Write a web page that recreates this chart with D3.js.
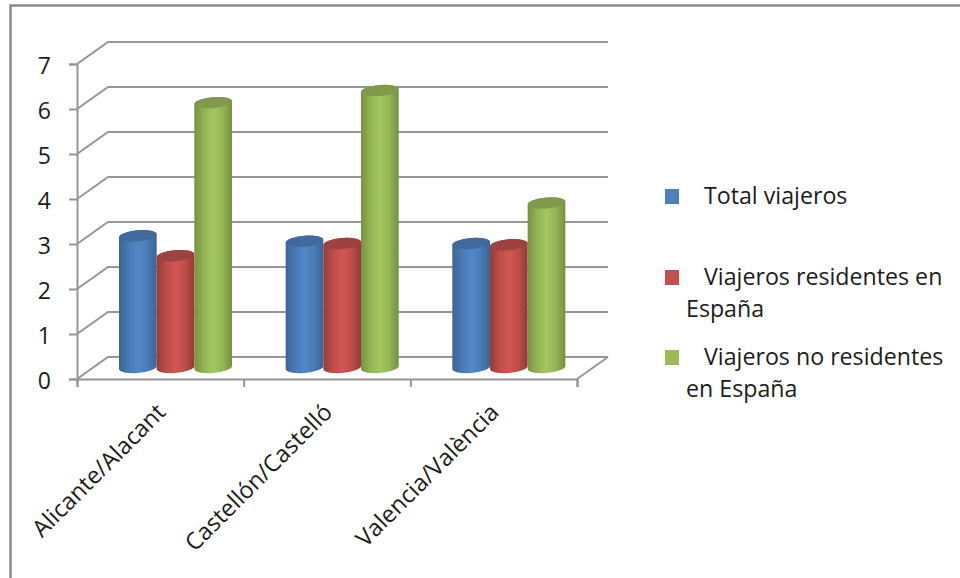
<!DOCTYPE html>
<html>
<head>
<meta charset="utf-8">
<script src="https://cdn.jsdelivr.net/npm/d3@7"></script>
<style>
body { margin: 0; background: #fff; }
text { font-family: "Open Sans", Lato, sans-serif; fill: #1c1c1c; }
</style>
</head>
<body>
<div id="graph"></div>
<script>
var svgWidth = 960;
var svgHeight = 578;

// data
var categories = ["Alicante/Alacant", "Castellón/Castelló", "Valencia/València"];
var seriesNames = ["Total viajeros", "Viajeros residentes en España", "Viajeros no residentes en España"];
var totalViajeros = [2.97, 2.85, 2.8];
var residentes = [2.53, 2.8, 2.77];
var noResidentes = [5.93, 6.2, 3.7];
var yTicks = [0, 1, 2, 3, 4, 5, 6, 7];

var seriesValues = [totalViajeros, residentes, noResidentes];
var seriesIds = ["blue", "red", "green"];
var legendColors = ["#4f81bd", "#c0504d", "#9bbb59"];
var topColors = ["#41699b", "#9d4240", "#7f9a4a"];
var stops = [
	["#3b6594", "#4a79b2", "#5189c8", "#4a7cb8", "#3a6492"],
	["#933c3a", "#bb4d4a", "#d25653", "#bd4e4b", "#8f3a38"],
	["#78923f", "#93b354", "#a3c760", "#95b556", "#74903f"]
];

// depth of the 3d floor
var depthX = 31;
var depthY = -22;

var x = d3.scaleBand().domain(categories).range([77, 577]);
var y = d3.scaleLinear().domain([0, 7]).range([379, 64]);
// the bars stand about half way into the floor
var inner = d3.scaleBand().domain(d3.range(3)).range([42, 155]);

var svg = d3.select("#graph").append("svg")
	.attr("width", svgWidth)
	.attr("height", svgHeight);

var defs = svg.append("defs");
seriesIds.forEach(function(id, i) {
	var grad = defs.append("linearGradient").attr("id", "grad-" + id);
	stops[i].forEach(function(c, j) {
		grad.append("stop").attr("offset", (j / 4 * 100) + "%").attr("stop-color", c);
	});
});

// outer frame, only top and left are visible
svg.append("path")
	.attr("d", "M10.5,578V5.5H960")
	.attr("fill", "none")
	.attr("stroke", "#8a8a8a")
	.attr("stroke-width", 2.5);

// back wall grid lines with the slanted side wall
var grid = svg.append("g").attr("class", "grid");
yTicks.forEach(function(t) {
	grid.append("path")
		.attr("d", d3.line()([
			[x.range()[0], y(t)],
			[x.range()[0] + depthX, y(t) + depthY],
			[x.range()[1] + depthX, y(t) + depthY]
		]))
		.attr("fill", "none")
		.attr("stroke", "#969696")
		.attr("stroke-width", 2);
});

// right edge of the floor
grid.append("line")
	.attr("x1", x.range()[1]).attr("y1", y(0))
	.attr("x2", x.range()[1] + depthX).attr("y2", y(0) + depthY)
	.attr("stroke", "#969696")
	.attr("stroke-width", 2);

// axes
var yAxis = svg.append("g")
	.attr("transform", "translate(" + x.range()[0] + ",0)")
	.call(d3.axisLeft(y).tickValues(yTicks).tickSize(8).tickPadding(18).tickFormat(d3.format("d")));
yAxis.selectAll("text").attr("font-size", 23).attr("dy", "0.42em");

var xTicks = categories.map(function(c) { return x(c); }).concat([x.range()[1]]);
var xAxis = svg.append("g")
	.attr("transform", "translate(0," + y(0) + ")")
	.call(d3.axisBottom(d3.scaleIdentity(x.range())).tickValues(xTicks).tickSize(8).tickFormat(""));

[yAxis, xAxis].forEach(function(axis) {
	axis.select(".domain").attr("stroke", "#969696").attr("stroke-width", 2);
	axis.selectAll(".tick line").attr("stroke", "#969696").attr("stroke-width", 2);
});

// cylinders
var baseY = y(0) - 9;
var ry = 5.5;
var barGroup = svg.append("g").attr("class", "bars");
categories.forEach(function(cat, c) {
	seriesValues.forEach(function(values, s) {
		var left = x(cat) + inner(s);
		var w = inner.bandwidth();
		var rx = w / 2;
		var cx = left + rx;
		var top = y(values[c]) - 9;
		barGroup.append("path")
			.attr("d", "M" + left + "," + (top + 1) +
				"L" + left + "," + (baseY - 1) +
				"A" + rx + "," + ry + " -5 0 0 " + (left + w) + "," + (baseY - 4) +
				"L" + (left + w) + "," + (top - 2) +
				"A" + rx + "," + ry + " -5 0 0 " + left + "," + (top + 1) + "Z")
			.attr("fill", "url(#grad-" + seriesIds[s] + ")");
		barGroup.append("ellipse")
			.attr("cx", cx)
			.attr("cy", top - 0.5)
			.attr("rx", rx)
			.attr("ry", ry)
			.attr("transform", "rotate(-5 " + cx + " " + (top - 0.5) + ")")
			.attr("fill", topColors[s]);
	});
});

// category labels, rotated 45 degrees
categories.forEach(function(cat) {
	var lx = x(cat) + x.bandwidth() / 2 - 5;
	svg.append("text")
		.attr("transform", "translate(" + lx + "," + 402 + ") rotate(-45)")
		.attr("text-anchor", "end")
		.attr("dy", "0.7em")
		.attr("font-size", 23.5)
		.text(cat);
});

// legend
var legendRows = [
	{ y: 196, lines: ["Total viajeros"] },
	{ y: 277, lines: ["Viajeros residentes en", "España"] },
	{ y: 357, lines: ["Viajeros no residentes", "en España"] }
];
var legend = svg.append("g").attr("class", "legend");
legendRows.forEach(function(row, i) {
	legend.append("rect")
		.attr("x", 665).attr("y", row.y - 7)
		.attr("width", 14).attr("height", 15)
		.attr("fill", legendColors[i]);
	row.lines.forEach(function(line, j) {
		legend.append("text")
			.attr("x", j == 0 ? 704 : 686)
			.attr("y", row.y + 8 + j * 32)
			.attr("font-size", 23.2)
			.text(line);
	});
});
</script>
</body>
</html>
